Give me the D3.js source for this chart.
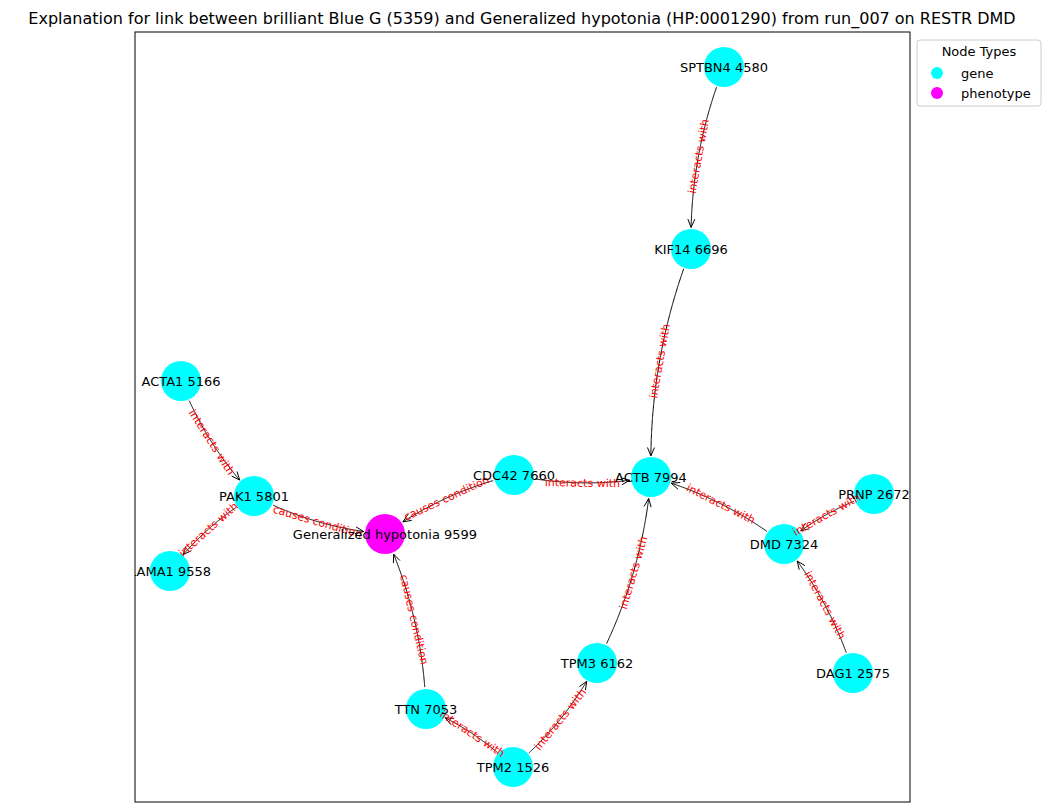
<!DOCTYPE html>
<meta charset="utf-8">
<style>
body { margin: 0; background: #fff; }
svg { font-family: "DejaVu Sans", sans-serif; }
</style>
<svg width="1050" height="812"></svg>
<script src="https://d3js.org/d3.v7.min.js"></script>
<script>
// node layout positions (data units)
var nodeNames = ["SPTBN4 4580", "KIF14 6696", "ACTA1 5166", "PAK1 5801", "LAMA1 9558",
  "Generalized hypotonia 9599", "CDC42 7660", "ACTB 7994", "PRNP 2672", "DMD 7324",
  "DAG1 2575", "TPM3 6162", "TTN 7053", "TPM2 1526"];
var nodeTypes = ["gene", "gene", "gene", "gene", "gene", "phenotype", "gene", "gene",
  "gene", "gene", "gene", "gene", "gene", "gene"];
var nodeX = [724, 691, 181, 254, 170, 385, 514, 651, 874, 784, 853, 597, 426, 513];
var nodeY = [67, 249, 381, 496, 571, 534, 475, 477, 494, 544, 673, 663, 709, 767];

var edgeSource = [0, 1, 2, 3, 3, 6, 6, 9, 8, 10, 11, 12, 13, 13];
var edgeTarget = [1, 7, 3, 4, 5, 5, 7, 7, 9, 9, 7, 5, 12, 11];
var edgeLabels = ["interacts with", "interacts with", "interacts with", "interacts with",
  "causes condition", "causes condition", "interacts with", "interacts with",
  "interacts with", "interacts with", "interacts with", "causes condition",
  "interacts with", "interacts with"];

var typeNames = ["gene", "phenotype"];
var typeColors = ["#00ffff", "#ff00ff"];

var svg = d3.select("svg");
var L = 135, T = 32, R = 910, B = 802;
var x = d3.scaleLinear().domain([135, 910]).range([L, R]);
var y = d3.scaleLinear().domain([32, 802]).range([T, B]);
var color = d3.scaleOrdinal().domain(typeNames).range(typeColors);
var rad = 20;

svg.append("text").attr("x", 522).attr("y", 24).attr("text-anchor", "middle")
  .attr("font-size", 16).text("Explanation for link between brilliant Blue G (5359) and Generalized hypotonia (HP:0001290) from run_007 on RESTR DMD");

svg.append("clipPath").attr("id", "clip").append("rect")
  .attr("x", L).attr("y", T).attr("width", R - L).attr("height", B - T);
var g = svg.append("g").attr("clip-path", "url(#clip)");

function bez(p0, c, p2, t) {
  var u = 1 - t;
  return [u * u * p0[0] + 2 * u * t * c[0] + t * t * p2[0], u * u * p0[1] + 2 * u * t * c[1] + t * t * p2[1]];
}

var edgesG = g.append("g"), nodesG = g.append("g"), elabG = g.append("g"), nlabG = g.append("g");

edgeSource.forEach(function (s, i) {
  var t = edgeTarget[i];
  var p0 = [x(nodeX[s]), y(nodeY[s])], p2 = [x(nodeX[t]), y(nodeY[t])];
  var dx = p2[0] - p0[0], dy = p2[1] - p0[1];
  var c = [(p0[0] + p2[0]) / 2 - 0.1 * dy, (p0[1] + p2[1]) / 2 + 0.1 * dx];
  var pts = d3.range(0, 201).map(function (k) { return bez(p0, c, p2, k / 200); });
  pts = pts.filter(function (p) {
    return Math.hypot(p[0] - p0[0], p[1] - p0[1]) > rad + 1 && Math.hypot(p[0] - p2[0], p[1] - p2[1]) > rad + 1;
  });
  edgesG.append("path").attr("d", d3.line()(pts)).attr("fill", "none").attr("stroke", "#000").attr("stroke-width", 1);
  var e = pts[pts.length - 1], q = pts[pts.length - 4];
  var a = Math.atan2(e[1] - q[1], e[0] - q[0]), hl = 9, hw = 0.4;
  edgesG.append("path")
    .attr("d", "M" + (e[0] - hl * Math.cos(a - hw)) + "," + (e[1] - hl * Math.sin(a - hw)) +
      "L" + e[0] + "," + e[1] + "L" + (e[0] - hl * Math.cos(a + hw)) + "," + (e[1] - hl * Math.sin(a + hw)))
    .attr("fill", "none").attr("stroke", "#000").attr("stroke-width", 1);
  var m = bez(p0, c, p2, 0.5);
  var ang = Math.atan2(p2[1] - p0[1], p2[0] - p0[0]) * 180 / Math.PI;
  if (ang > 90) ang -= 180;
  if (ang < -90) ang += 180;
  elabG.append("text").attr("transform", "translate(" + m[0] + "," + m[1] + ") rotate(" + ang + ")")
    .attr("text-anchor", "middle").attr("dy", "0.35em").attr("font-size", 11).attr("fill", "red")
    .text(edgeLabels[i]);
});

nodeNames.forEach(function (n, i) {
  nodesG.append("circle").attr("cx", x(nodeX[i])).attr("cy", y(nodeY[i])).attr("r", rad)
    .attr("fill", color(nodeTypes[i]));
  nlabG.append("text").attr("x", x(nodeX[i])).attr("y", y(nodeY[i])).attr("dy", "0.35em")
    .attr("text-anchor", "middle").attr("font-size", 13).text(n);
});

svg.append("rect").attr("x", L).attr("y", T).attr("width", R - L).attr("height", B - T)
  .attr("fill", "none").attr("stroke", "#000").attr("stroke-width", 1);

// legend
var lg = svg.append("g");
lg.append("rect").attr("x", 917).attr("y", 40).attr("width", 124).attr("height", 66).attr("rx", 3)
  .attr("fill", "#fff").attr("stroke", "#ccc");
lg.append("text").attr("x", 979).attr("y", 56).attr("text-anchor", "middle").attr("font-size", 13).text("Node Types");
typeNames.forEach(function (t, i) {
  lg.append("circle").attr("cx", 937).attr("cy", 73 + i * 20).attr("r", 6).attr("fill", color(t));
  lg.append("text").attr("x", 961).attr("y", 73 + i * 20).attr("dy", "0.35em").attr("font-size", 13).text(t);
});
</script>
